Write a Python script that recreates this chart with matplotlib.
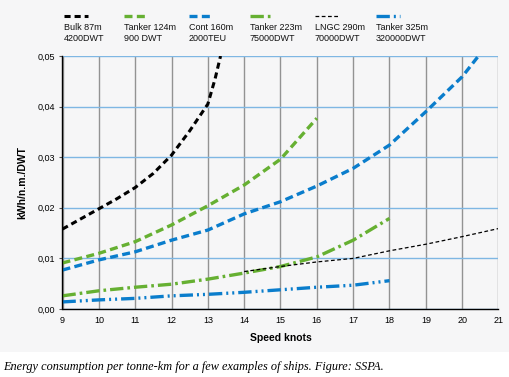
import matplotlib.pyplot as plt
from matplotlib.lines import Line2D
from matplotlib.patches import Rectangle

# values
bulk_x = [9, 9.5, 10, 10.5, 11, 11.5, 12, 12.5, 13, 13.2, 13.35]
bulk_y = [0.0158, 0.0178, 0.0198, 0.0218, 0.0240, 0.0268, 0.0304, 0.0352, 0.0405, 0.0455, 0.050]

t124_x = [9, 10, 11, 12, 13, 14, 15, 16]
t124_y = [0.0091, 0.0110, 0.0133, 0.0166, 0.0204, 0.0245, 0.0296, 0.0377]

cont_x = [9, 10, 11, 12, 13, 14, 15, 16, 17, 18, 19, 20, 20.47]
cont_y = [0.0077, 0.0097, 0.0113, 0.0136, 0.0156, 0.0188, 0.0212, 0.0243, 0.0278, 0.0324, 0.0390, 0.0459, 0.0502]

t223_x = [9, 10, 11, 12, 13, 14, 15, 16, 17, 18]
t223_y = [0.0026, 0.0036, 0.0043, 0.0049, 0.0059, 0.0071, 0.0084, 0.0103, 0.0136, 0.0179]

lngc_x = [14, 15, 16, 17, 18, 19, 20, 21]
lngc_y = [0.0074, 0.0084, 0.0093, 0.0100, 0.0115, 0.0128, 0.0143, 0.0159]

t325_x = [9, 10, 11, 12, 13, 14, 15, 16, 17, 18]
t325_y = [0.0014, 0.0018, 0.0021, 0.0026, 0.0029, 0.0033, 0.0038, 0.0043, 0.0047, 0.0056]

labels = ['Bulk 87m\n4200DWT', 'Tanker 124m\n900 DWT', 'Cont 160m\n2000TEU',
          'Tanker 223m\n75000DWT', 'LNGC 290m\n70000DWT', 'Tanker 325m\n320000DWT']

xticks = list(range(9, 22))
yticks = [0.0, 0.01, 0.02, 0.03, 0.04, 0.05]
ytick_labels = ['0,00', '0,01', '0,02', '0,03', '0,04', '0,05']

black = '#000000'
green = '#66b032'
blue = '#0a7dcc'

styles = [
    dict(color=black, lw=2.2, dashes=(2, 1.3)),
    dict(color=green, lw=2.4, dashes=(2.4, 1.3)),
    dict(color=blue, lw=2.4, dashes=(2.4, 1.3)),
    dict(color=green, lw=2.4, dashes=(4, 1.2, 0.8, 1.2)),
    dict(color=black, lw=0.9, dashes=(3, 2)),
    dict(color=blue, lw=2.4, dashes=(4, 1.2, 0.6, 1.2, 0.6, 1.2)),
]
series = [(bulk_x, bulk_y), (t124_x, t124_y), (cont_x, cont_y),
          (t223_x, t223_y), (lngc_x, lngc_y), (t325_x, t325_y)]

plt.rcParams['font.family'] = ['Liberation Sans', 'DejaVu Sans']

fig = plt.figure(figsize=(5.10, 3.77), dpi=100)
fig.patch.set_facecolor('white')
# grey panel behind the chart, caption sits on white below it
fig.add_artist(Rectangle((0, 25 / 377), 1, 1 - 25 / 377, transform=fig.transFigure,
                         facecolor='#f6f6f7', edgecolor='none', zorder=-10))

ax = fig.add_axes([62.5 / 510, 68 / 377, 436 / 510, 253 / 377])
ax.set_facecolor('#f6f6f7')

for (x, y), st in zip(series, styles):
    ax.plot(x, y, solid_capstyle='butt', dash_capstyle='butt', **st)

ax.set_xlim(9, 21)
ax.set_ylim(0, 0.05)
ax.set_xticks(xticks)
ax.set_yticks(yticks)
ax.set_yticklabels(ytick_labels)
ax.tick_params(axis='both', labelsize=6.5, length=2, color='#555555', pad=3)
ax.tick_params(axis='x', length=0, pad=5)

ax.xaxis.grid(True, color='#939393', lw=1)
ax.yaxis.grid(True, color='#7fb7e3', lw=1)
ax.set_axisbelow(True)
for s in ['top', 'right']:
    ax.spines[s].set_visible(False)
for s in ['left', 'bottom']:
    ax.spines[s].set_color('black')
    ax.spines[s].set_linewidth(1)

ax.set_xlabel('Speed knots', fontsize=7.5, fontweight='bold', labelpad=6)
ax.set_ylabel('kWh/n.m./DWT', fontsize=7.5, fontweight='bold', labelpad=8)

# legend: line sample above two-line label
leg_x = [64, 124, 189, 250, 315, 376]
for lx, lab, st in zip(leg_x, labels, styles):
    fig.add_artist(Line2D([lx / 510, (lx + 24) / 510], [1 - 16 / 377, 1 - 16 / 377],
                          transform=fig.transFigure, **st))
    fig.text(lx / 510, 1 - 23 / 377, lab, fontsize=6.5, va='top', ha='left',
             linespacing=1.35, color='#111111')

fig.text(3 / 510, 4 / 377,
         'Energy consumption per tonne-km for a few examples of ships. Figure: SSPA.',
         family=['Liberation Serif', 'DejaVu Serif'], style='italic', fontsize=8.8,
         ha='left', va='bottom')

fig.savefig('out.png', dpi=100)
